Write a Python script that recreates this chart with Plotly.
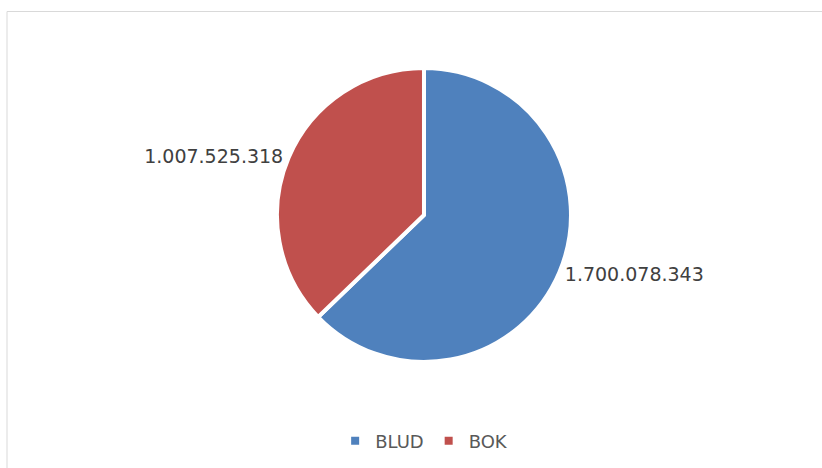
import plotly.graph_objects as go

# Data
categories = ["BLUD", "BOK"]
values = [1700078343, 1007525318]
colors = ["#4F81BD", "#C0504D"]

W, H = 822, 468
FONT = "DejaVu Sans, Lato, sans-serif"

fig = go.Figure(
    go.Pie(
        labels=categories,
        values=values,
        sort=False,
        direction="clockwise",
        rotation=0,
        marker=dict(colors=colors, line=dict(color="white", width=4)),
        textposition="outside",
        texttemplate="%{value:,}",
        textfont=dict(family=FONT, size=19, color="#404040"),
        hoverinfo="label+value+percent",
        domain=dict(x=[0.1, 0.9316], y=[1 - 362 / H, 1 - 68 / H]),
        showlegend=True,
    )
)

# Light frame around the chart area
fig.add_shape(
    type="rect", xref="paper", yref="paper",
    x0=7 / W, x1=1.02, y0=-0.02, y1=1 - 11.5 / H,
    line=dict(color="#D9D9D9", width=1), fillcolor="rgba(0,0,0,0)",
    layer="below",
)

fig.update_layout(
    width=W, height=H,
    margin=dict(l=0, r=0, t=0, b=0, autoexpand=False),
    paper_bgcolor="white",
    plot_bgcolor="white",
    separators=",.",
    legend=dict(
        orientation="h",
        x=0.516, xanchor="center",
        y=1 - 441 / H, yanchor="middle",
        font=dict(family=FONT, size=18, color="#595959"),
        itemwidth=30,
    ),
)

fig.write_html("out.html")
